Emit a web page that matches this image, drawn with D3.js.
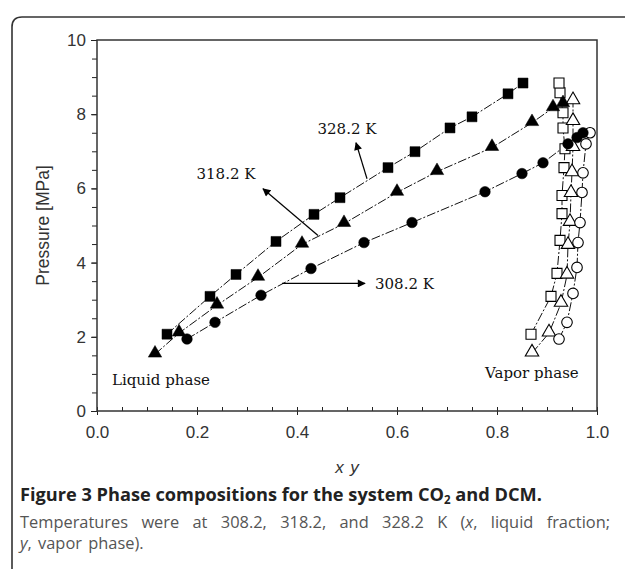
<!DOCTYPE html>
<html><head><meta charset="utf-8">
<script src="https://cdn.jsdelivr.net/npm/d3@7/dist/d3.min.js"></script>
<style>body{margin:0;background:#fff}svg{display:block}</style>
</head><body><svg id="c" width="625" height="569"></svg>
<script>
// ---- data (x = mole fraction CO2, P = pressure MPa) ----
const liquid308 = [[0.18,1.94],[0.236,2.39],[0.328,3.12],[0.428,3.84],[0.534,4.54],[0.63,5.08],[0.776,5.91],[0.85,6.40],[0.892,6.69],[0.942,7.20],[0.96,7.37],[0.972,7.50]];
const vapor308  = [[0.924,1.94],[0.94,2.39],[0.952,3.17],[0.96,3.87],[0.962,4.54],[0.966,5.08],[0.97,5.89],[0.972,6.42],[0.978,7.20],[0.986,7.50]];
const liquid318 = [[0.116,1.53],[0.164,2.10],[0.24,2.85],[0.322,3.60],[0.41,4.49],[0.494,5.05],[0.60,5.89],[0.68,6.45],[0.79,7.10],[0.87,7.77],[0.912,8.17],[0.932,8.28]];
const vapor318  = [[0.87,1.56],[0.904,2.10],[0.928,2.90],[0.94,3.66],[0.942,4.46],[0.946,5.08],[0.948,5.86],[0.95,6.42],[0.952,7.10],[0.952,7.80],[0.952,8.36]];
const liquid328 = [[0.14,2.07],[0.226,3.09],[0.278,3.68],[0.358,4.57],[0.434,5.30],[0.486,5.75],[0.582,6.56],[0.636,6.99],[0.706,7.63],[0.75,7.93],[0.822,8.55],[0.852,8.84]];
const vapor328  = [[0.868,2.07],[0.908,3.09],[0.92,3.71],[0.926,4.60],[0.93,5.32],[0.93,5.81],[0.934,6.56],[0.936,7.07],[0.932,7.63],[0.932,8.04],[0.926,8.58],[0.924,8.84]];
const xTicks = [0,0.2,0.4,0.6,0.8,1.0];
const yTicks = [0,2,4,6,8,10];
const annotations = [
  {label:"328.2 K", from:[0.54,6.26], to:[0.518,7.23], text:[0.5,7.61], anchor:"middle"},
  {label:"318.2 K", from:[0.442,4.73], to:[0.332,5.99], text:[0.258,6.40], anchor:"middle"},
  {label:"308.2 K", from:[0.37,3.44], to:[0.536,3.44], text:[0.556,3.44], anchor:"start"}
];
const phaseLabels = [{label:"Liquid phase", at:[0.03,0.83]},{label:"Vapor phase", at:[0.776,1.02]}];

const svg = d3.select("#c");
const L=97,R=597,T=40,B=411;
const x = d3.scaleLinear().domain([0,1]).range([L,R]);
const y = d3.scaleLinear().domain([0,10]).range([B,T]);

// outer frame
svg.append("path").attr("d","M12,569 L12,27 Q12,17 22,17 L625,17")
  .attr("fill","none").attr("stroke","#333").attr("stroke-width",1.6);

// axes
const tickFont = "Liberation Sans, Arial, sans-serif";
const gx = svg.append("g").attr("transform",`translate(0,${B})`)
  .call(d3.axisBottom(x).tickValues(d3.range(0,1.0001,0.05)).tickSize(0).tickFormat(""));
gx.select(".domain").remove();
gx.selectAll(".tick line").attr("y1",-4).attr("y2",(d,i)=> i%4===0?4:0).attr("stroke","#222");
const gx2 = svg.append("g").attr("transform",`translate(0,${B})`)
  .call(d3.axisBottom(x).tickValues(xTicks).tickSize(0).tickPadding(15).tickFormat(d3.format(".1f")));
gx2.select(".domain").remove();
gx2.selectAll("text").attr("font-family",tickFont).attr("font-size",17).attr("fill","#333");

const gy = svg.append("g").attr("transform",`translate(${L},0)`)
  .call(d3.axisLeft(y).tickValues(d3.range(0,10.001,0.5)).tickSize(5).tickFormat(""));
gy.select(".domain").remove();
gy.selectAll(".tick line").attr("stroke","#222");
const gy2 = svg.append("g").attr("transform",`translate(${L},0)`)
  .call(d3.axisLeft(y).tickValues(yTicks).tickSize(6).tickPadding(5));
gy2.select(".domain").remove();
gy2.selectAll(".tick line").attr("stroke","#222");
gy2.selectAll("text").attr("font-family",tickFont).attr("font-size",17).attr("fill","#333");

// plot box
svg.append("rect").attr("x",L).attr("y",T).attr("width",R-L).attr("height",B-T)
  .attr("fill","none").attr("stroke","#333").attr("stroke-width",1.5);

// axis titles
svg.append("text").attr("transform",`translate(43,${(T+B)/2}) rotate(-90)`)
  .attr("text-anchor","middle").attr("dy","0.35em").attr("font-family",tickFont).attr("font-size",17.5).attr("fill","#333")
  .text("Pressure [MPa]");
svg.append("text").attr("x",(L+R)/2).attr("y",473).attr("text-anchor","middle")
  .attr("font-family",tickFont).attr("font-size",17).attr("font-style","italic").attr("fill","#333")
  .attr("word-spacing",2).text("x y");

// lines
const line = d3.line().x(d=>x(d[0])).y(d=>y(d[1]));
const plot = svg.append("g");
[liquid308,vapor308,liquid318,vapor318,liquid328,vapor328].forEach(s=>{
  plot.append("path").attr("d",line(s)).attr("fill","none").attr("stroke","#111")
    .attr("stroke-width",1).attr("stroke-dasharray","9,2,2,2");
});

// markers
function markers(data, type, filled){
  const g = plot.append("g");
  const sym = d3.symbol().type(type==="sq"?d3.symbolSquare:type==="tri"?d3.symbolTriangle:d3.symbolCircle)
    .size(type==="sq"?100:type==="tri"?78:88);
  g.selectAll("path").data(data).join("path")
    .attr("d",sym)
    .attr("transform",d=>`translate(${x(d[0])},${y(d[1])+(type==="tri"?-1:0)})`)
    .attr("fill",filled?"#000":"#fff").attr("stroke","#000").attr("stroke-width",filled?0.5:1.1);
}
markers(vapor328,"sq",false);
markers(vapor318,"tri",false);
markers(vapor308,"circ",false);
markers(liquid328,"sq",true);
markers(liquid318,"tri",true);
markers(liquid308,"circ",true);

// annotations
svg.append("defs").append("marker").attr("id","ah").attr("viewBox","0 0 10 10")
  .attr("refX",9).attr("refY",5).attr("markerWidth",10).attr("markerHeight",8)
  .attr("markerUnits","userSpaceOnUse").attr("orient","auto")
  .append("path").attr("d","M0,0 L10,5 L0,10 Z").attr("fill","#000");
const serif = "DejaVu Serif, serif";
annotations.forEach(a=>{
  svg.append("line").attr("x1",x(a.from[0])).attr("y1",y(a.from[1]))
    .attr("x2",x(a.to[0])).attr("y2",y(a.to[1])).attr("stroke","#000").attr("stroke-width",1.2)
    .attr("marker-end","url(#ah)");
  svg.append("text").attr("x",x(a.text[0])).attr("y",y(a.text[1])).attr("dy","0.35em")
    .attr("text-anchor",a.anchor).attr("font-family",serif).attr("font-size",15).attr("fill","#111")
    .text(a.label);
});
phaseLabels.forEach(p=>{
  svg.append("text").attr("x",x(p.at[0])).attr("y",y(p.at[1])).attr("dy","0.35em")
    .attr("font-family",serif).attr("font-size",15).attr("fill","#111").text(p.label);
});

// caption
const cap = "Open Sans, Noto Sans, sans-serif";
const t1 = svg.append("text").attr("x",20).attr("y",501).attr("font-family",cap).attr("font-size",18.2)
  .attr("font-weight","bold").attr("fill","#222");
t1.append("tspan").text("Figure 3 Phase compositions for the system CO");
t1.append("tspan").attr("font-size",11.5).attr("dy",3).text("2");
t1.append("tspan").attr("dy",-3).text(" and DCM.");
const t2 = svg.append("text").attr("x",20).attr("y",528).attr("font-family",cap).attr("font-size",16.4)
  .attr("fill","#555");
t2.append("tspan").text("Temperatures were at 308.2, 318.2, and 328.2 K (");
t2.append("tspan").attr("font-style","italic").text("x");
t2.append("tspan").text(", liquid fraction;");
// justify line 2 to the column width using word spacing
const w2 = t2.node().getComputedTextLength();
const spaces = 10;
t2.attr("word-spacing", Math.max(0,(590 - w2)/spaces));
const t3 = svg.append("text").attr("x",20).attr("y",549).attr("font-family",cap).attr("font-size",16.4)
  .attr("fill","#555").attr("word-spacing",2);
t3.append("tspan").attr("font-style","italic").text("y");
t3.append("tspan").text(", vapor phase).");
</script></body></html>
